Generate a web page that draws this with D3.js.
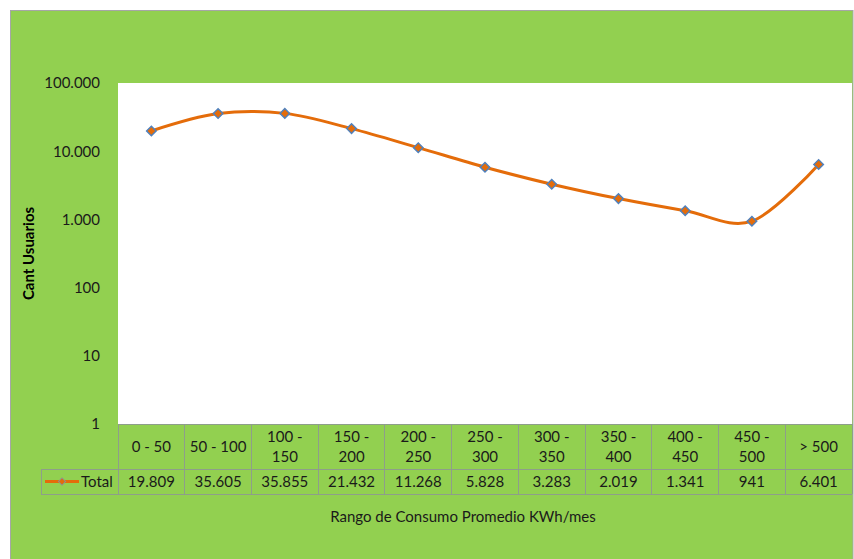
<!DOCTYPE html>
<html>
<head>
<meta charset="utf-8">
<script src="https://cdn.jsdelivr.net/npm/d3@7"></script>
<style>
  html, body { margin: 0; padding: 0; background: #fff; }
  svg { display: block; font-family: Lato, "Open Sans", sans-serif; }
</style>
</head>
<body>
<svg id="chart" width="854" height="559"></svg>
<script>
// Consumption ranges (kWh/month) and number of users per range
const categories = ["0 - 50", "50 - 100", "100 - 150", "150 - 200", "200 - 250", "250 - 300",
                    "300 - 350", "350 - 400", "400 - 450", "450 - 500", "> 500"];
const totals = [19809, 35605, 35855, 21432, 11268, 5828, 3283, 2019, 1341, 941, 6401];
const yTicks = [1, 10, 100, 1000, 10000, 100000];
const seriesName = "Total";
const yTitle = "Cant Usuarios";
const xTitle = "Rango de Consumo Promedio KWh/mes";

const locale = d3.formatLocale({ decimal: ",", thousands: ".", grouping: [3], currency: ["", ""] });
const fmt = locale.format(",d");

const svg = d3.select("#chart");
const W = 854, H = 559;
const green = "#92D050", orange = "#E46C0A", blue = "#4F81BD", grid = "#8E9E8A";
const fs = 15;

// chart area background + border
svg.append("rect").attr("x", 10.5).attr("y", 10.5).attr("width", W - 11.5).attr("height", H - 10)
  .attr("fill", green).attr("stroke", "#A6A6A6").attr("stroke-width", 1);

const plot = { left: 118, right: 852, top: 83, bottom: 424 };

svg.append("rect").attr("x", plot.left).attr("y", plot.top)
  .attr("width", plot.right - plot.left).attr("height", plot.bottom - plot.top).attr("fill", "#fff");

const x = d3.scaleBand().domain(categories).range([plot.left, plot.right]).padding(0);
const y = d3.scaleLog().domain([1, 100000]).range([plot.bottom, plot.top]);

// y axis labels
const yAxis = d3.axisLeft(y).tickValues(yTicks).tickFormat(fmt).tickSize(0).tickPadding(18);
const yg = svg.append("g").attr("transform", `translate(${plot.left},0)`).call(yAxis);
yg.select(".domain").remove();
yg.selectAll("text").attr("font-size", fs).attr("fill", "#1a1a1a")
  .attr("font-family", "Lato, sans-serif");

// y title
svg.append("text")
  .attr("transform", `translate(34,${(plot.top + plot.bottom) / 2}) rotate(-90)`)
  .attr("text-anchor", "middle").attr("font-size", 15).attr("font-weight", "bold")
  .attr("fill", "#000").text(yTitle);

// smoothed series line
const line = d3.line()
  .x((d, i) => x(categories[i]) + x.bandwidth() / 2)
  .y(d => y(d))
  .curve(d3.curveCardinal.tension(0));

svg.append("path").datum(totals).attr("d", line)
  .attr("fill", "none").attr("stroke", orange).attr("stroke-width", 3).attr("stroke-linejoin", "round");

// square diamonds (a square turned 45 degrees)
const diamond = d3.symbol().type(d3.symbolSquare).size(46);
svg.append("g").selectAll("path").data(totals).join("path")
  .attr("transform", (d, i) => `translate(${x(categories[i]) + x.bandwidth() / 2},${y(d)}) rotate(45)`)
  .attr("d", diamond).attr("fill", orange).attr("stroke", blue).attr("stroke-width", 1.4);

// data table
const headTop = plot.bottom, headBot = 469, rowBot = 494, legendLeft = 41;
const tg = svg.append("g");
const gridAttr = s => s.attr("stroke", grid).attr("stroke-width", 1).attr("shape-rendering", "crispEdges");

tg.append("line").attr("x1", plot.left).attr("x2", plot.right).attr("y1", headTop).attr("y2", headTop).call(gridAttr);
tg.append("line").attr("x1", legendLeft).attr("x2", plot.right).attr("y1", headBot).attr("y2", headBot).call(gridAttr);
tg.append("line").attr("x1", legendLeft).attr("x2", plot.right).attr("y1", rowBot).attr("y2", rowBot).call(gridAttr);
tg.append("line").attr("x1", legendLeft).attr("x2", legendLeft).attr("y1", headBot).attr("y2", rowBot).call(gridAttr);
const edges = categories.map(c => x(c)).concat([plot.right]);
tg.selectAll("line.v").data(edges).join("line").attr("class", "v")
  .attr("x1", d => d).attr("x2", d => d).attr("y1", headTop).attr("y2", rowBot).call(gridAttr);

// header labels, wrapped after the dash when too wide
categories.forEach(c => {
  const cx = x(c) + x.bandwidth() / 2;
  const t = tg.append("text").attr("text-anchor", "middle").attr("font-size", fs).attr("fill", "#1a1a1a")
    .attr("x", cx).attr("y", (headTop + headBot) / 2 + 5).text(c);
  if (t.node().getComputedTextLength() > x.bandwidth() - 8 && c.includes(" - ")) {
    const parts = c.split(" - ");
    t.text(null).attr("y", null);
    t.append("tspan").attr("x", cx).attr("y", 442).text(parts[0] + " -");
    t.append("tspan").attr("x", cx).attr("y", 462).text(parts[1]);
  }
});

// values row
tg.selectAll("text.val").data(totals).join("text").attr("class", "val")
  .attr("x", (d, i) => x(categories[i]) + x.bandwidth() / 2).attr("y", (headBot + rowBot) / 2 + 5)
  .attr("text-anchor", "middle").attr("font-size", fs).attr("fill", "#1a1a1a").text(d => fmt(d));

// legend key in the table
const ly = (headBot + rowBot) / 2;
tg.append("line").attr("x1", 45).attr("x2", 79).attr("y1", ly).attr("y2", ly)
  .attr("stroke", orange).attr("stroke-width", 3);
tg.append("path").attr("transform", `translate(62,${ly}) rotate(45)`)
  .attr("d", d3.symbol().type(d3.symbolSquare).size(26))
  .attr("fill", orange).attr("stroke", "#8F8F8F").attr("stroke-width", 1);
tg.append("text").attr("x", 81).attr("y", ly + 5).attr("font-size", fs).attr("fill", "#1a1a1a").text(seriesName);

// x title
svg.append("text").attr("x", 463).attr("y", 522).attr("text-anchor", "middle")
  .attr("font-size", fs).attr("fill", "#1a1a1a").text(xTitle);
</script>
</body>
</html>
